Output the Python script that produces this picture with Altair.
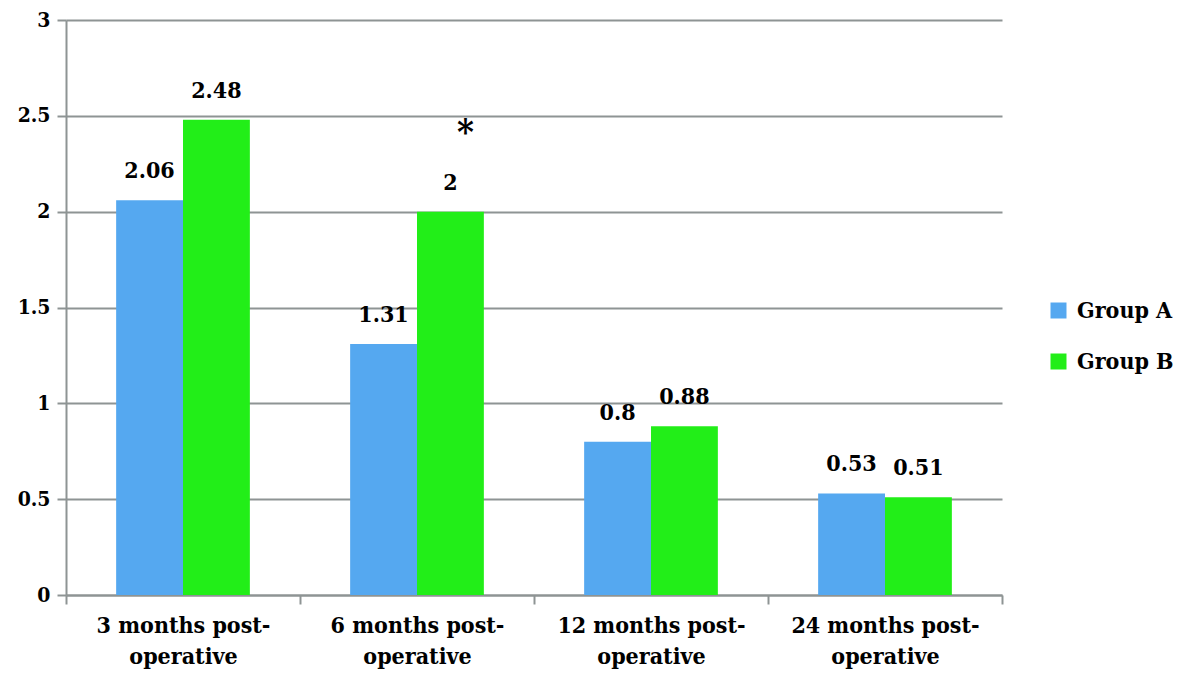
import altair as alt
import pandas as pd

categories = [
    "3 months post-operative",
    "6 months post-operative",
    "12 months post-operative",
    "24 months post-operative",
]
groups = ["Group A", "Group B"]
group_a = [2.06, 1.31, 0.8, 0.53]
group_b = [2.48, 2.0, 0.88, 0.51]
colors = ["#55A8F0", "#22EE18"]
star_category = ["6 months post-operative"]
star_group = ["Group B"]
star_value = [2.41]
y_ticks = [0, 0.5, 1, 1.5, 2, 2.5, 3]

rows = []
for c, a, b in zip(categories, group_a, group_b):
    rows.append({"category": c, "group": "Group A", "value": a, "label": f"{a:g}"})
    rows.append({"category": c, "group": "Group B", "value": b, "label": f"{b:g}"})
df = pd.DataFrame(rows)
star_df = pd.DataFrame({"category": star_category, "group": star_group,
                        "value": star_value, "mark": ["*"]})

FONT = "DejaVu Serif Condensed, DejaVu Serif, serif"
GREY = "#8E9494"

x = alt.X(
    "category:N", sort=categories, title=None,
    scale=alt.Scale(paddingInner=0, paddingOuter=0),
    axis=alt.Axis(
        labelAngle=0, tickBand="extent", labelLimit=0,
        labelExpr="[slice(datum.label, 0, indexof(datum.label, '-') + 1), slice(datum.label, indexof(datum.label, '-') + 1)]",
        labelFont=FONT, labelFontSize=23, labelFontWeight="bold", labelColor="#000000",
        labelLineHeight=31, labelBaseline="top", labelPadding=10,
        domainColor=GREY, domainWidth=2, tickColor=GREY, tickWidth=2, tickSize=9,
    ),
)
xo = alt.XOffset("group:N", sort=groups,
                 scale=alt.Scale(paddingInner=0, paddingOuter=0.75))
y = alt.Y(
    "value:Q", title=None,
    scale=alt.Scale(domain=[0, 3], nice=False),
    axis=alt.Axis(
        values=y_ticks, format="~g",
        labelFont=FONT, labelFontSize=21, labelFontWeight="bold", labelColor="#000000",
        labelPadding=7,
        grid=True, gridColor=GREY, gridWidth=2,
        domainColor=GREY, domainWidth=2, tickColor=GREY, tickWidth=2, tickSize=9,
    ),
)

bars = alt.Chart(df).mark_bar().encode(
    x=x, xOffset=xo, y=y,
    color=alt.Color(
        "group:N", scale=alt.Scale(domain=groups, range=colors),
        legend=alt.Legend(
            title=None, orient="none", legendX=981, legendY=279, padding=0,
            symbolType="square", symbolSize=256, symbolStrokeWidth=0,
            labelFont=FONT, labelFontSize=23, labelFontWeight="bold", labelColor="#000000",
            labelOffset=7, rowPadding=27,
        ),
    ),
)

labels = alt.Chart(df).mark_text(
    baseline="bottom", dy=-17, font=FONT, fontSize=23, fontWeight="bold", color="#000000"
).encode(x=x, xOffset=xo, y=y, text="label:N")

star = alt.Chart(star_df).mark_text(
    baseline="middle", dx=15, dy=0, font=FONT, fontSize=36, fontWeight="bold", color="#000000"
).encode(x=x, xOffset=xo, y=y, text="mark:N")

chart = alt.layer(bars, labels, star).properties(
    width=936, height=575,
    autosize=alt.AutoSizeParams(type="none"),
    padding={"left": 58, "top": 12, "right": 171, "bottom": 78},
).configure_view(stroke=None)

chart.save("out.html", embed_options={"renderer": "svg", "actions": False})
